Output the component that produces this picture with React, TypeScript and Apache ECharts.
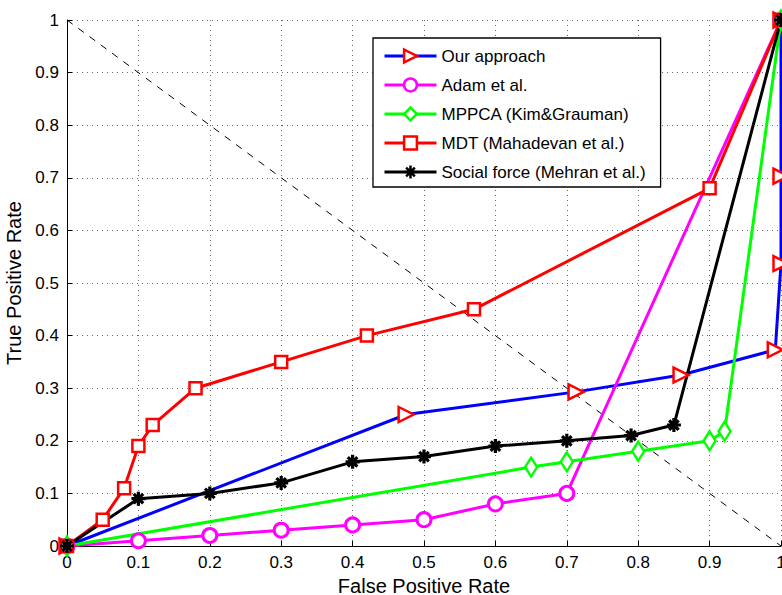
import React, { useEffect, useRef } from "react";
import * as echarts from "echarts";

const seriesNames = [
  "Our approach",
  "Adam et al.",
  "MPPCA (Kim&Grauman)",
  "MDT (Mahadevan et al.)",
  "Social force (Mehran et al.)",
];

const ourApproach: [number, number][] = [
  [0, 0], [0.475, 0.25], [0.713, 0.293], [0.86, 0.325], [0.992, 0.373], [1, 0.537], [1, 0.703], [1, 1],
];
const adam: [number, number][] = [
  [0, 0], [0.1, 0.01], [0.2, 0.02], [0.3, 0.03], [0.4, 0.04], [0.5, 0.05], [0.6, 0.08], [0.7, 0.1], [1, 1],
];
const mppca: [number, number][] = [
  [0, 0], [0.65, 0.15], [0.7, 0.16], [0.8, 0.18], [0.9, 0.2], [0.921, 0.218], [1, 1],
];
const mdt: [number, number][] = [
  [0, 0], [0.05, 0.05], [0.08, 0.11], [0.1, 0.19], [0.12, 0.23], [0.18, 0.3], [0.3, 0.35], [0.42, 0.4], [0.57, 0.45], [0.9, 0.68], [1, 1],
];
const socialForce: [number, number][] = [
  [0, 0], [0.1, 0.09], [0.2, 0.1], [0.3, 0.12], [0.4, 0.16], [0.5, 0.17], [0.6, 0.19], [0.7, 0.2], [0.79, 0.21], [0.85, 0.23], [1, 1],
];
const chanceLine: [number, number][] = [[0, 1], [1, 0]];

const tickLabel = (v: number) => String(Number(v.toFixed(1)));

const FONT = "Liberation Sans, Arial, Helvetica, sans-serif";

export default function App() {
  const ref = useRef<HTMLDivElement>(null);
  useEffect(() => {
    if (!ref.current) return;
    const chart = echarts.init(ref.current, undefined, { renderer: "svg" });
    const mk = (
      name: string,
      data: [number, number][],
      lineColor: string,
      symbol: string,
      symbolSize: number | number[],
      markerColor: string,
      fill: string,
      bw: number
    ) => ({
      name,
      type: "line",
      data,
      clip: false,
      symbol,
      symbolSize,
      showSymbol: true,
      lineStyle: { color: lineColor, width: 3 },
      itemStyle: { color: fill, borderColor: markerColor, borderWidth: bw },
      emphasis: { disabled: true },
    });
    const asterisk = "path://M5,0L5,10M0,5L10,5M1.6,1.6L8.4,8.4M8.4,1.6L1.6,8.4";
    const triRight = "path://M0,0L10,5L0,10Z";
    chart.setOption({
      animation: false,
      backgroundColor: "#ffffff",
      textStyle: { fontFamily: FONT },
      grid: { left: 67, right: 1, top: 20, bottom: 49, outerBoundsMode: "none", containLabel: false },
      xAxis: {
        type: "value",
        min: 0,
        max: 1,
        interval: 0.1,
        name: "False Positive Rate",
        nameLocation: "middle",
        nameGap: 25,
        nameTextStyle: { fontSize: 20, lineHeight: 20, color: "#000", fontFamily: FONT },
        axisLine: { show: true, lineStyle: { color: "#000", width: 1 } },
        axisTick: { show: true, inside: true, length: 5, lineStyle: { color: "#000" } },
        axisLabel: { fontSize: 17, color: "#000", margin: 8, formatter: tickLabel, fontFamily: FONT },
        splitLine: { show: true, lineStyle: { color: "#666", type: [1, 4], width: 1 } },
      },
      yAxis: {
        type: "value",
        min: 0,
        max: 1,
        interval: 0.1,
        name: "True Positive Rate",
        nameLocation: "middle",
        nameGap: 36,
        nameTextStyle: { fontSize: 20, lineHeight: 20, color: "#000", fontFamily: FONT },
        axisLine: { show: true, lineStyle: { color: "#000", width: 1 } },
        axisTick: { show: true, inside: true, length: 5, lineStyle: { color: "#000" } },
        axisLabel: { fontSize: 17, color: "#000", margin: 8, formatter: tickLabel, fontFamily: FONT },
        splitLine: { show: true, lineStyle: { color: "#666", type: [1, 4], width: 1 } },
      },
      legend: {
        data: seriesNames,
        orient: "vertical",
        left: 373,
        top: 38,
        padding: [9, 15, 6, 10],
        itemWidth: 52,
        itemHeight: 16,
        itemGap: 11,
        backgroundColor: "#fff",
        borderColor: "#000",
        borderWidth: 1.3,
        borderRadius: 0,
        selectedMode: false,
        textStyle: { fontSize: 17, lineHeight: 18, color: "#000", fontFamily: FONT },
        lineStyle: { width: 3 },
        itemStyle: { borderWidth: 2.5 },
      },
      series: [
        {
          name: "chance",
          type: "line",
          data: chanceLine,
          symbol: "none",
          clip: false,
          lineStyle: { color: "#000", width: 1, type: [7, 7] },
          emphasis: { disabled: true },
          z: 1,
        },
        mk(seriesNames[0], ourApproach, "#0000ff", triRight, 15, "#ff0000", "#ffffff", 2.5),
        mk(seriesNames[1], adam, "#ff00ff", "circle", 14, "#ff00ff", "#ffffff", 3),
        mk(seriesNames[2], mppca, "#00ff00", "diamond", [12, 19], "#00ff00", "#ffffff", 2.5),
        mk(seriesNames[3], mdt, "#ff0000", "rect", 12, "#ff0000", "#ffffff", 2.5),
        mk(seriesNames[4], socialForce, "#000000", asterisk, 14, "#000000", "#000000", 3.2),
      ],
    });
    return () => chart.dispose();
  }, []);
  return (
    <div
      ref={ref}
      style={{ position: "fixed", left: 0, top: 0, width: 782, height: 595 }}
    />
  );
}
